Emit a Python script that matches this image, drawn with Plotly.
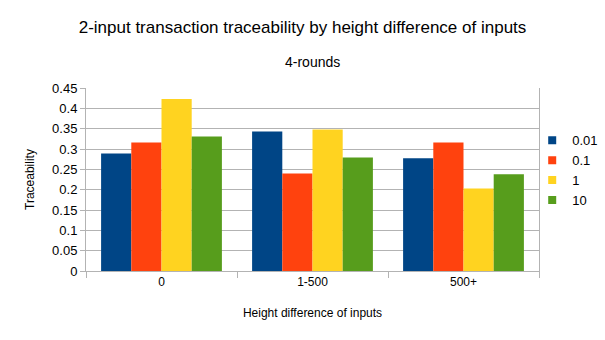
import plotly.graph_objects as go

categories = ["0", "1-500", "500+"]
series_names = ["0.01", "0.1", "1", "10"]
values_001 = [0.289, 0.343, 0.277]
values_01 = [0.316, 0.240, 0.316]
values_1 = [0.423, 0.348, 0.203]
values_10 = [0.331, 0.279, 0.238]
colors = ["#004586", "#ff420e", "#ffd320", "#579d1c"]
y_ticks = [0, 0.05, 0.1, 0.15, 0.2, 0.25, 0.3, 0.35, 0.4, 0.45]
y_tick_labels = ["0", "0.05", "0.1", "0.15", "0.2", "0.25", "0.3", "0.35", "0.4", "0.45"]

fig = go.Figure()
for name, vals, col in zip(series_names, [values_001, values_01, values_1, values_10], colors):
    fig.add_trace(go.Bar(x=categories, y=vals, name=name, showlegend=False,
                         marker=dict(color=col, line=dict(width=0))))
# legend entries with small square swatches
for name, col in zip(series_names, colors):
    fig.add_trace(go.Scatter(x=[None], y=[None], mode="markers", name=name,
                             marker=dict(symbol="square", size=8, color=col)))

font = "Liberation Sans, Arial, sans-serif"
fig.update_layout(
    width=605, height=340,
    margin=dict(l=86, r=66, t=88, b=69, autoexpand=False),
    paper_bgcolor="white", plot_bgcolor="white",
    barmode="group", bargap=0.2, bargroupgap=0,
    font=dict(family=font, size=13, color="#000000"),
    title=dict(text="2-input transaction traceability by height difference of inputs",
               x=0.5, xanchor="center", y=1 - 27 / 340, yanchor="middle",
               font=dict(size=17, family=font)),
    annotations=[dict(text="4-rounds", xref="paper", yref="paper", x=0.5, xanchor="center",
                      y=1 + (88 - 62) / (340 - 88 - 69), yanchor="middle", showarrow=False,
                      font=dict(size=14, family=font))],
    legend=dict(x=0.985, xanchor="left", y=0.55, yanchor="middle", font=dict(size=13),
                itemwidth=30, tracegroupgap=0, bgcolor="rgba(0,0,0,0)"),
    xaxis=dict(title=dict(text="Height difference of inputs", font=dict(size=12), standoff=20),
               showline=True, linecolor="#b3b3b3", linewidth=1, mirror=False,
               ticks="outside", tickson="boundaries", ticklen=6, tickcolor="#b3b3b3",
               showgrid=False, tickfont=dict(size=12)),
    yaxis=dict(title=dict(text="Traceability", font=dict(size=12), standoff=14),
               range=[0, 0.45], tickvals=y_ticks, ticktext=y_tick_labels,
               showgrid=True, gridcolor="#b3b3b3", gridwidth=1,
               showline=True, linecolor="#b3b3b3", mirror=True,
               ticks="outside", ticklen=5, tickcolor="#b3b3b3",
               zeroline=False, tickfont=dict(size=13)),
)
fig.write_html("out.html")
